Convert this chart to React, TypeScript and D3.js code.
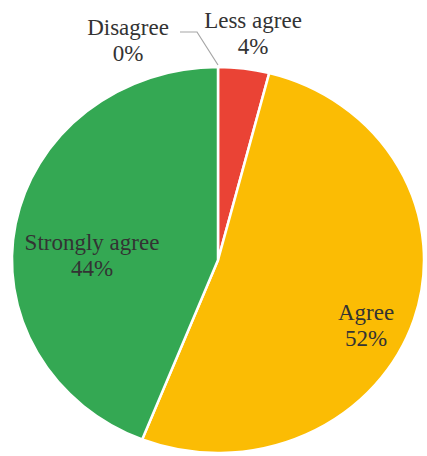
import React from "react";
import * as d3 from "d3";

const categories = ["Disagree", "Less agree", "Agree", "Strongly agree"];
const values = [0, 4, 52, 44];
const percentLabels = ["0%", "4%", "52%", "44%"];
const colors = ["#7f7f7f", "#ea4335", "#fbbc04", "#34a853"];

// label layout (center positions of the two-line labels)
const labelPos: [number, number][] = [
  [128, 40],
  [253, 33],
  [366, 325],
  [92, 255],
];

const W = 427;
const H = 456;
const cx = 218;
const cy = 260;
const ry = 193;
const rx = 206;

export default function App() {
  const pie = d3.pie<number>().sort(null).value((d) => d).startAngle(0).endAngle(2 * Math.PI);
  const arcs = pie(values);
  const arc = d3.arc<d3.PieArcDatum<number>>().innerRadius(0).outerRadius(ry);
  const fs = 23;
  return (
    <svg width={W} height={H} style={{ position: "absolute", left: 0, top: 0, background: "#fff" }}>
      <g transform={`translate(${cx},${cy}) scale(${rx / ry},1)`}>
        {arcs.map((a, i) => (
          <path
            key={categories[i]}
            d={arc(a) || ""}
            fill={colors[i]}
            stroke="#fff"
            strokeWidth={2.5}
            vectorEffect="non-scaling-stroke"
          />
        ))}
      </g>
      <polyline points="180,32 197,32 218,65" fill="none" stroke="#a6a6a6" strokeWidth={1.2} />
      {categories.map((c, i) => (
        <text
          key={c}
          x={labelPos[i][0]}
          y={labelPos[i][1]}
          textAnchor="middle"
          fontFamily="'Liberation Serif', 'DejaVu Serif', serif"
          fontSize={fs}
          fill="#333333"
        >
          <tspan x={labelPos[i][0]} dy="-0.2em">{c}</tspan>
          <tspan x={labelPos[i][0]} dy="1.13em">{percentLabels[i]}</tspan>
        </text>
      ))}
    </svg>
  );
}
